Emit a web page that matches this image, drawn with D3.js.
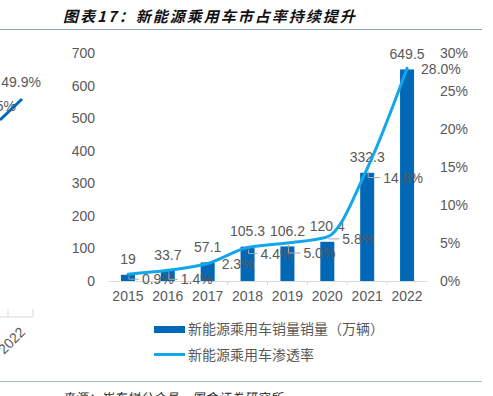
<!DOCTYPE html>
<html lang="zh">
<head>
    <meta charset="UTF-8">
    <script src="https://d3js.org/d3.v7.min.js"></script>
    <title>新能源乘用车市占率持续提升</title>
    <style>
        body { margin: 0; background: #fff; }
        svg { display: block; }
        text { font-family: 'Liberation Sans', Arial, 'Noto Sans CJK SC', sans-serif; fill: #595959; font-size: 14px; }
        text.cjk { font-family: 'Noto Sans CJK SC', sans-serif; }
        text.title { font-family: 'Noto Sans CJK SC', sans-serif; font-weight: bold; font-style: italic; fill: #111; font-size: 15px; letter-spacing: 2px; }
        text.source { font-family: 'Noto Sans CJK SC', sans-serif; font-style: italic; fill: #222; font-size: 12px; letter-spacing: 1px; }
    </style>
</head>
<body>
<svg height="396" width="493"></svg>
<script>
    const years = ["2015", "2016", "2017", "2018", "2019", "2020", "2021", "2022"];
    const sales = [19, 33.7, 57.1, 105.3, 106.2, 120.4, 332.3, 649.5];
    const share = [0.9, 1.4, 2.3, 4.4, 5.0, 5.8, 14.8, 28.0];
    const leftTicks = [0, 100, 200, 300, 400, 500, 600, 700];
    const rightTicks = [0, 5, 10, 15, 20, 25, 30];
    const legendNames = ["新能源乘用车销量销量（万辆）", "新能源乘用车渗透率"];

    const barColor = "#0068b7", lineColor = "#12a6ea";
    const svg = d3.select("svg");

    const x = d3.scaleBand().domain(years).range([108, 427]);
    const yL = d3.scaleLinear().domain([0, 700]).range([281, 53]);
    const yR = d3.scaleLinear().domain([0, 30]).range([281, 53]);
    const cx = d => x(d) + x.bandwidth() / 2;

    // header / footer
    svg.append("text").attr("class", "title").attr("x", 63).attr("y", 22)
            .text("图表17：新能源乘用车市占率持续提升");
    svg.append("line").attr("x1", 0).attr("x2", 482).attr("y1", 29.5).attr("y2", 29.5)
            .attr("stroke", "#8ea3b5").attr("stroke-width", 1.2);
    svg.append("line").attr("x1", 0).attr("x2", 482).attr("y1", 381.5).attr("y2", 381.5)
            .attr("stroke", "#a8c0cf").attr("stroke-width", 1.2);
    svg.append("text").attr("class", "source").attr("x", 62).attr("y", 402)
            .text("来源：崔东树公众号，国金证券研究所");

    // leftover of the neighbouring chart
    svg.append("text").attr("x", 41).attr("y", 87).attr("text-anchor", "end").text("49.9%");
    svg.append("text").attr("x", 16).attr("y", 111).attr("text-anchor", "end").text("5%");
    svg.append("line").attr("x1", 0).attr("y1", 120).attr("x2", 22).attr("y2", 99)
            .attr("stroke", barColor).attr("stroke-width", 3);
    svg.append("path").attr("d", "M0,317H33M8,317V309M33,317V309")
            .attr("stroke", "#d9d9d9").attr("fill", "none");
    svg.append("text").attr("transform", "translate(26,333) rotate(-45)")
            .attr("text-anchor", "end").text("2022");

    // axes
    const axisL = svg.append("g").attr("transform", "translate(95,0)")
            .call(d3.axisLeft(yL).tickValues(leftTicks).tickSize(0).tickPadding(0));
    const axisR = svg.append("g").attr("transform", "translate(440,0)")
            .call(d3.axisRight(yR).tickValues(rightTicks).tickSize(0).tickPadding(0).tickFormat(d => d + "%"));
    [axisL, axisR].forEach(g => {
        g.select(".domain").remove();
        g.selectAll("text").attr("font-size", 14).attr("font-family", null).attr("fill", "#595959");
    });

    const axisX = svg.append("g").attr("transform", "translate(0,281)")
            .call(d3.axisBottom(x).tickSize(0).tickPadding(10));
    axisX.select(".domain").attr("stroke", "#d9d9d9");
    axisX.selectAll("text").attr("font-size", 14).attr("font-family", null).attr("fill", "#595959");
    axisX.selectAll(".sep").data(years.slice(1)).enter().append("line").attr("class", "sep")
            .attr("x1", d => x(d)).attr("x2", d => x(d)).attr("y1", 0).attr("y2", 4)
            .attr("stroke", "#d9d9d9");

    // bars
    const barW = 14;
    svg.append("g").selectAll("rect").data(sales).enter().append("rect")
            .attr("x", (d, i) => cx(years[i]) - barW / 2).attr("width", barW)
            .attr("y", d => yL(d)).attr("height", d => yL(0) - yL(d))
            .attr("fill", barColor);
    svg.append("g").selectAll("text").data(sales).enter().append("text")
            .attr("x", (d, i) => cx(years[i])).attr("y", d => yL(d) - 10.5)
            .attr("text-anchor", "middle").text(d => d);

    // share line
    const line = d3.line().x((d, i) => cx(years[i])).y(d => yR(d)).curve(d3.curveMonotoneX);
    svg.append("path").datum(share).attr("d", line)
            .attr("fill", "none").attr("stroke", lineColor).attr("stroke-width", 3)
            .attr("stroke-linecap", "round");

    // share labels with small leaders
    const labelShift = [[14, 5], [13, 9], [14, 0], [13, 6], [16, 10], [15, 2], [16, 9], [14, 1]];
    const lab = svg.append("g");
    share.forEach((d, i) => {
        const px = cx(years[i]), py = yR(d);
        const [dx, dy] = labelShift[i];
        if (dx > 0 && (i !== 2 && i !== 7)) {
            lab.append("path")
                    .attr("d", `M${px + 1},${py + 2}V${py + dy}H${px + dx - 3}`)
                    .attr("stroke", "#a6a6a6").attr("fill", "none");
        }
        lab.append("text").attr("x", px + dx).attr("y", py + dy + 5)
                .text(d.toFixed(1) + "%");
    });

    // legend
    const leg = svg.append("g").attr("transform", "translate(154,0)");
    leg.append("rect").attr("x", 0).attr("y", 326).attr("width", 31).attr("height", 7).attr("fill", barColor);
    leg.append("line").attr("x1", 0).attr("x2", 31).attr("y1", 354.5).attr("y2", 354.5)
            .attr("stroke", lineColor).attr("stroke-width", 3);
    leg.selectAll("text").data(legendNames).enter().append("text").attr("class", "cjk")
            .attr("x", 34).attr("y", (d, i) => 334 + i * 26).text(d => d);
</script>
</body>
</html>
